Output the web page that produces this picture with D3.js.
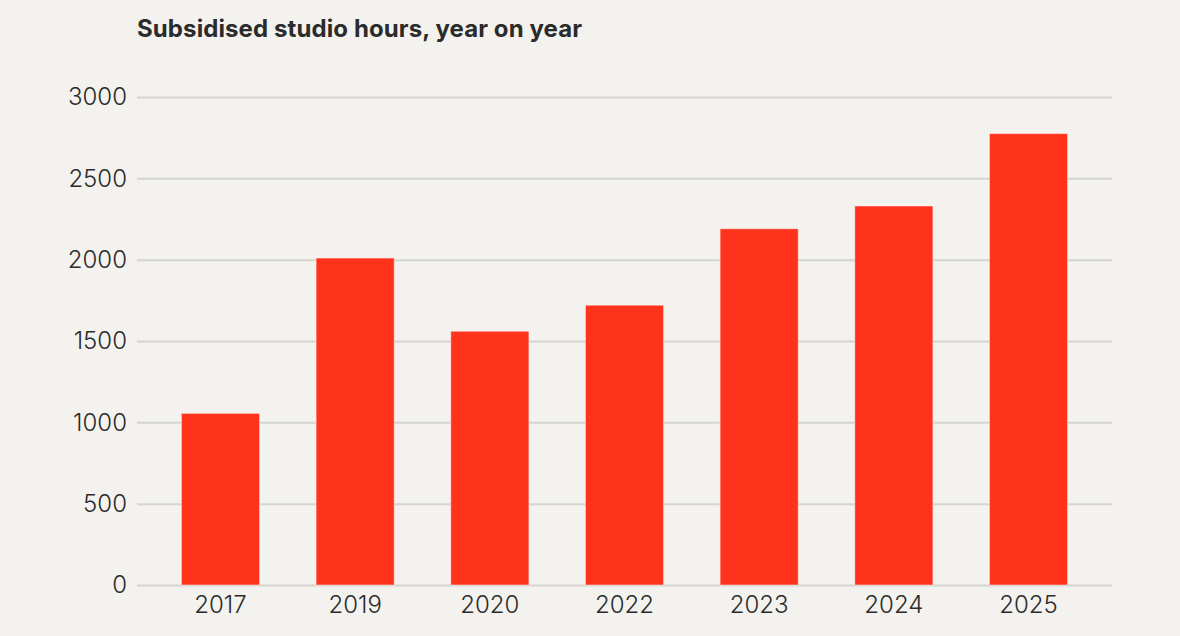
<!DOCTYPE html>
<html>
<head>
<meta charset="utf-8">
<script src="https://cdn.jsdelivr.net/npm/d3@7"></script>
<style>
  html, body { margin: 0; padding: 0; background: #f3f2ee; }
  svg { display: block; }
  text { font-family: Inter, "Noto Sans", sans-serif; fill: #2b2b2b; }
</style>
</head>
<body>
<div id="chart"></div>
<script>
// chart data
var years = ["2017", "2019", "2020", "2022", "2023", "2024", "2025"];
var hours = [1055, 2010, 1560, 1720, 2190, 2330, 2775];
var yTicks = [0, 500, 1000, 1500, 2000, 2500, 3000];

var width = 1180, height = 636;
var plotLeft = 137, plotRight = 1112, plotTop = 97, plotBottom = 585;

var svg = d3.select("#chart").append("svg")
    .attr("width", width)
    .attr("height", height);

// title
svg.append("text")
    .attr("x", plotLeft)
    .attr("y", 37)
    .attr("font-size", 24)
    .attr("font-weight", 700)
    .attr("letter-spacing", 0.1)
    .text("Subsidised studio hours, year on year");

// scales
var x = d3.scaleBand()
    .domain(years)
    .range([plotLeft, plotRight])
    .paddingInner(0.42)
    .paddingOuter(0.33);

var y = d3.scaleLinear()
    .domain([0, 3000])
    .range([plotBottom, plotTop]);

// y axis with gridlines
var yAxis = svg.append("g")
    .attr("transform", "translate(" + plotLeft + ",0)")
    .call(d3.axisLeft(y).tickValues(yTicks).tickSize(-(plotRight - plotLeft)).tickPadding(10).tickFormat(d3.format("d")));
yAxis.select(".domain").remove();
yAxis.selectAll(".tick line")
    .attr("stroke", "#d5d4d0")
    .attr("stroke-width", 2);
yAxis.selectAll(".tick text")
    .attr("font-size", 24)
    .attr("font-weight", 300)
    .attr("fill", "#2b2b2b");

// bars
svg.append("g").selectAll("rect")
    .data(hours)
    .enter()
    .append("rect")
        .attr("x", function(d, i){ return x(years[i]); })
        .attr("y", function(d){ return y(d); })
        .attr("width", x.bandwidth())
        .attr("height", function(d){ return plotBottom - y(d); })
        .attr("fill", "#ff321b")
        .attr("stroke", "rgba(255,255,255,0.45)")
        .attr("stroke-width", 1);

// x axis
var xAxis = svg.append("g")
    .attr("transform", "translate(0," + plotBottom + ")")
    .call(d3.axisBottom(x).tickSize(0).tickPadding(11));
xAxis.select(".domain").remove();
xAxis.selectAll(".tick text")
    .attr("font-size", 24)
    .attr("font-weight", 300)
    .attr("fill", "#2b2b2b");
</script>
</body>
</html>
